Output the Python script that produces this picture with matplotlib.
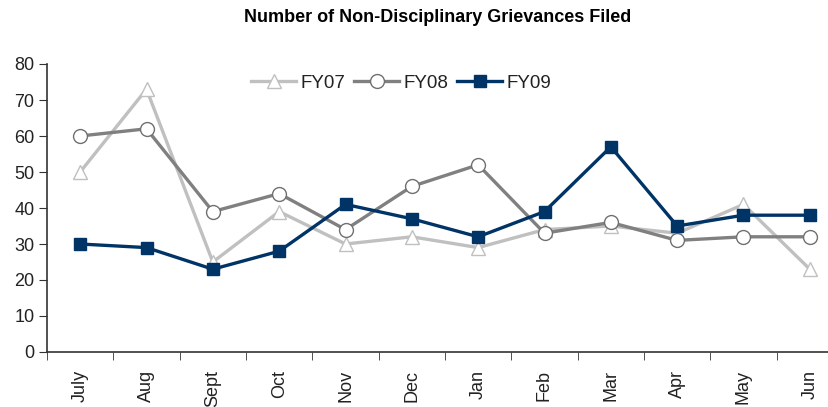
import numpy as np
import matplotlib.pyplot as plt

months = ["July", "Aug", "Sept", "Oct", "Nov", "Dec", "Jan", "Feb", "Mar", "Apr", "May", "Jun"]
fy07 = [50, 73, 25, 39, 30, 32, 29, 34, 35, 33, 41, 23]
fy08 = [60, 62, 39, 44, 34, 46, 52, 33, 36, 31, 32, 32]
fy09 = [30, 29, 23, 28, 41, 37, 32, 39, 57, 35, 38, 38]

plt.rcParams['font.family'] = ['Liberation Sans', 'DejaVu Sans']

W, H = 829, 407
fig = plt.figure(figsize=(W / 100, H / 100), dpi=100)
ax = fig.add_axes([47 / W, 1 - 352 / H, 796 / W, 288 / H])

x = np.arange(len(months))
ax.plot(x, fy07, color="#c0c0c0", lw=2.4, marker="^", ms=10,
        mfc="white", mec="#c0c0c0", mew=1.0, label="FY07", zorder=3)
ax.plot(x, fy08, color="#808080", lw=2.4, marker="o", ms=10,
        mfc="white", mec="#707070", mew=1.0, label="FY08", zorder=4)
ax.plot(x, fy09, color="#003366", lw=2.4, marker="s", ms=8,
        mfc="#003366", mec="#003366", label="FY09", zorder=5)

ax.set_xlim(-0.5, len(months) - 0.5)
ax.set_ylim(0, 80)
ax.set_yticks(range(0, 81, 10))
ax.set_xticks(x)
ax.set_xticklabels(months, rotation=90, fontsize=13)
ax.set_xticks(np.arange(-0.5, len(months), 1), minor=True)
ax.tick_params(axis="x", which="major", length=0, pad=13, labelcolor="#222222")
ax.tick_params(axis="x", which="minor", length=6, direction="out", color="#333333")
ax.tick_params(axis="y", length=6, direction="out", color="#333333", labelsize=13,
               labelcolor="#222222", pad=3)

for s in ["top", "right"]:
    ax.spines[s].set_visible(False)
for s in ["left", "bottom"]:
    ax.spines[s].set_color("#333333")
    ax.spines[s].set_linewidth(1.2)

ax.legend(loc="center", bbox_to_anchor=(0.445, 0.934), ncol=3, frameon=False,
          fontsize=13.5, handlelength=2.4, handletextpad=0.2, columnspacing=0.5,
          labelcolor="#222222")

fig.text(438 / W, 1 - 17 / H, "Number of Non-Disciplinary Grievances Filed",
         ha="center", va="center", fontsize=13, fontweight="bold")

fig.savefig("out.png", dpi=100)
